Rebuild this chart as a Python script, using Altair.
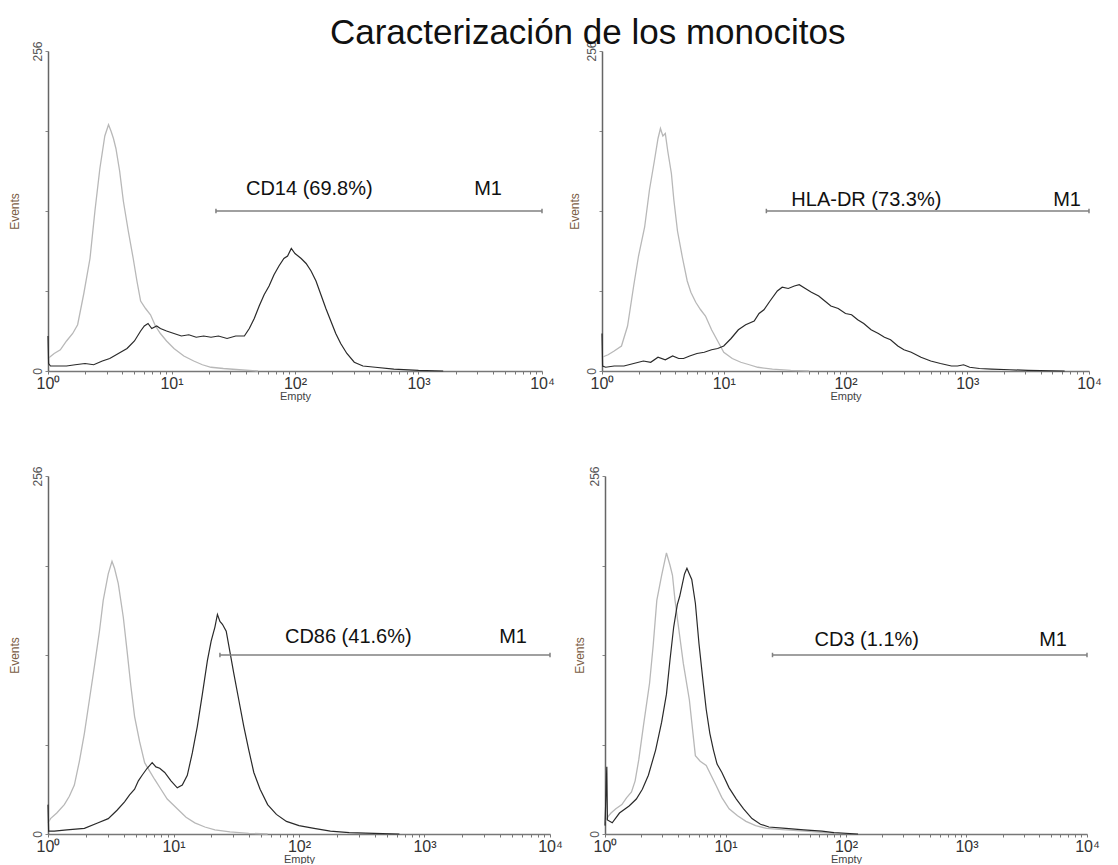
import altair as alt
import pandas as pd

TITLE = "Caracterización de los monocitos"
GATE_LABELS = ["CD14 (69.8%)", "HLA-DR (73.3%)", "CD86 (41.6%)", "CD3 (1.1%)"]
GATE_NAME = "M1"
GATE_START_LOG = [1.36, 1.35, 1.37, 1.39]   # log10 of gate start
GATE_LEVEL = [128, 128, 128, 128]           # events level of the marker bar
X_TICKS = [1, 10, 100, 1000, 10000]
Y_TICKS = [0, 64, 128, 192, 256]

# ---- histogram curves: log10(intensity) and events ----
cd14_iso_d = [0.00,0.05,0.10,0.15,0.20,0.24,0.29,0.34,0.38,0.42,0.46,0.49,0.51,0.53,0.55,0.58,0.61,0.65,0.69,0.72,0.75,0.79,0.83,0.87,0.91,0.96,1.02,1.10,1.18,1.25,1.32,1.42,1.55,1.70]
cd14_iso_c = [10,14,17,24,30,37,62,90,128,162,188,197,192,186,178,160,136,112,90,72,56,50,45,36,30,24,18,12,8,5,3,2,1,0]
cd14_mab_d = [0.00,0.005,0.02,0.08,0.15,0.22,0.30,0.37,0.44,0.50,0.57,0.64,0.70,0.75,0.78,0.81,0.84,0.88,0.91,0.96,1.02,1.08,1.14,1.20,1.26,1.32,1.38,1.45,1.52,1.59,1.63,1.67,1.71,1.75,1.79,1.83,1.87,1.91,1.94,1.97,2.00,2.05,2.09,2.13,2.17,2.21,2.25,2.29,2.33,2.37,2.42,2.48,2.55,2.65,2.80,3.00,3.20]
cd14_mab_c = [28,6,4,4,4,5,6,5,8,10,14,18,24,32,36,38,34,36,34,32,30,28,29,27,28,27,28,26,28,28,34,42,52,61,68,77,84,90,92,98,94,90,86,80,72,61,50,40,30,22,14,7,4,3,1.5,0.5,0]

hla_iso_d = [0.00,0.05,0.10,0.16,0.21,0.26,0.30,0.35,0.39,0.43,0.46,0.48,0.50,0.52,0.54,0.57,0.59,0.62,0.66,0.70,0.73,0.77,0.81,0.85,0.90,0.95,1.00,1.07,1.14,1.21,1.28,1.40,1.55,1.70]
hla_iso_c = [11,13,16,20,36,68,92,115,145,168,186,194,188,190,176,158,137,112,91,72,63,55,49,44,33,24,15,10,7,5,3,1.5,0.5,0]
hla_mab_d = [0.00,0.005,0.03,0.10,0.18,0.26,0.34,0.40,0.46,0.52,0.58,0.63,0.67,0.72,0.78,0.84,0.90,0.95,1.00,1.06,1.12,1.18,1.25,1.29,1.33,1.38,1.44,1.48,1.53,1.58,1.62,1.67,1.72,1.78,1.83,1.88,1.94,2.00,2.05,2.10,2.15,2.21,2.27,2.32,2.37,2.43,2.48,2.54,2.62,2.70,2.78,2.87,2.92,2.97,3.02,3.10,3.20,3.35,3.50,3.80]
hla_mab_c = [30,4,3,4,4,6,8,7,11,9,12,10,10,12,14,15,17,18,20,26,33,37,40,46,49,56,64,67,66,68,69,66,63,60,56,52,50,46,45,41,38,33,30,27,25,20,17,15,11,8,6,4,4,5,3,2,1.5,1,0.5,0]

cd86_iso_d = [0.00,0.02,0.07,0.13,0.17,0.21,0.25,0.29,0.33,0.37,0.41,0.44,0.48,0.51,0.53,0.56,0.60,0.63,0.66,0.69,0.73,0.77,0.81,0.85,0.90,0.95,1.03,1.10,1.17,1.25,1.33,1.45,1.60,1.75]
cd86_iso_c = [8,11,15,21,27,35,52,72,96,120,145,167,186,195,190,179,155,131,106,84,66,51,45,39,32,25,18,12,8,5,3,1.5,0.5,0]
cd86_mab_d = [0.00,0.005,0.05,0.15,0.29,0.40,0.48,0.55,0.61,0.65,0.69,0.72,0.75,0.79,0.83,0.86,0.89,0.93,0.98,1.03,1.07,1.11,1.15,1.19,1.23,1.27,1.30,1.33,1.35,1.37,1.39,1.42,1.45,1.48,1.52,1.56,1.60,1.64,1.69,1.75,1.82,1.90,2.00,2.12,2.25,2.40,2.60,2.80]
cd86_mab_c = [21,2,2,3,4,8,11,17,23,28,32,38,42,47,51,48,47,44,38,33,35,42,58,77,100,124,138,148,157,152,150,145,130,115,96,77,60,44,32,21,14,9,6,4,2,1,0.5,0]

cd3_iso_d = [0.00,0.03,0.05,0.09,0.14,0.18,0.22,0.25,0.28,0.32,0.37,0.40,0.43,0.47,0.51,0.54,0.56,0.58,0.61,0.65,0.70,0.73,0.75,0.79,0.84,0.88,0.92,0.97,1.03,1.10,1.17,1.25,1.34,1.50,1.66,1.90]
cd3_iso_c = [9,13,15,18,21,26,30,38,53,78,108,135,167,185,201,192,185,168,148,122,96,72,56,52,49,42,35,26,18,13,9,6,4,3,2,0.5]
cd3_mab_d = [0.00,0.015,0.02,0.06,0.12,0.20,0.26,0.31,0.36,0.42,0.47,0.51,0.54,0.57,0.60,0.62,0.64,0.66,0.68,0.70,0.72,0.75,0.78,0.81,0.84,0.87,0.90,0.93,0.97,1.03,1.09,1.15,1.22,1.29,1.36,1.50,1.65,1.80,1.90,2.10]
cd3_mab_c = [6,48,10,8,15,20,25,32,42,60,80,100,125,148,164,170,178,186,190,186,182,165,136,112,89,72,60,50,44,33,25,18,11,7,5,4,3,2,1,0]

CURVES = [
    (cd14_iso_d, cd14_iso_c, cd14_mab_d, cd14_mab_c),
    (hla_iso_d, hla_iso_c, hla_mab_d, hla_mab_c),
    (cd86_iso_d, cd86_iso_c, cd86_mab_d, cd86_mab_c),
    (cd3_iso_d, cd3_iso_c, cd3_mab_d, cd3_mab_c),
]

# ---- styles (layout only) ----
FONT = "Liberation Sans"
SIZES = [(494, 320), (487, 320), (502, 358), (482, 358)]
Y_TITLE_PAD = [10, 4, 10, 2]
LABEL_OFFSETS = [(30, -22), (25, -11), (65, -18), (42, -15)]   # dx, dy of gate label
M1_OFFSETS = [(-40, -22), (-8, -11), (-23, -18), (-20, -15)]

x_label_expr = ("datum.value == 1 ? '10⁰' : datum.value == 10 ? '10¹' : "
                "datum.value == 100 ? '10²' : datum.value == 1000 ? '10³' : "
                "datum.value == 10000 ? '10⁴' : ''")
minor = [m * 10 ** k for k in range(4) for m in range(1, 10)] + [10000]


def panel(i):
    iso_d, iso_c, mab_d, mab_c = CURVES[i]
    rows = [{"x": 10 ** d, "n": c, "s": "iso", "o": j} for j, (d, c) in enumerate(zip(iso_d, iso_c))]
    rows += [{"x": 10 ** d, "n": c, "s": "mab", "o": j} for j, (d, c) in enumerate(zip(mab_d, mab_c))]
    df = pd.DataFrame(rows)
    w, h = SIZES[i]
    xs = alt.Scale(type="log", domain=[1, 10000], nice=False)
    ys = alt.Scale(domain=[0, 256], nice=False, zero=True)
    xax = alt.Axis(values=minor, labelExpr=x_label_expr, title="Empty", grid=False,
                   tickSize=3, labelFontSize=16, labelColor="#333", labelFont=FONT,
                   titleFontSize=11, titleFont=FONT, titleFontWeight="normal",
                   titleColor="#444", titlePadding=-1, labelPadding=1, labelFlush=False,
                   domainColor="#777", tickColor="#777", domainWidth=1.5)
    yax = alt.Axis(values=Y_TICKS, title="Events", grid=False, tickSize=3,
                   labelExpr="datum.value == 0 || datum.value == 256 ? datum.label : ''",
                   labelAngle=270, labelAlign="center", labelBaseline="bottom",
                   labelFontSize=12, labelColor="#555", labelFont=FONT, labelPadding=1,
                   titleFontSize=12, titleFont=FONT, titleFontWeight="normal",
                   titleColor="#7a5c45", titlePadding=Y_TITLE_PAD[i],
                   domainColor="#666", tickColor="#888", domainWidth=1.5)
    base = alt.Chart(df)
    iso = base.transform_filter("datum.s == 'iso'").mark_line(
        color="#b8b8b8", strokeWidth=1.3).encode(
        x=alt.X("x:Q", scale=xs, axis=xax), y=alt.Y("n:Q", scale=ys, axis=yax), order="o:Q")
    mab = base.transform_filter("datum.s == 'mab'").mark_line(
        color="#2a2a2a", strokeWidth=1.2).encode(
        x=alt.X("x:Q", scale=xs), y=alt.Y("n:Q", scale=ys), order="o:Q")

    gdf = pd.DataFrame({"x0": [10 ** GATE_START_LOG[i]], "x1": [10000],
                        "y": [GATE_LEVEL[i]], "lab": [GATE_LABELS[i]], "m": [GATE_NAME]})
    gbase = alt.Chart(gdf)
    rule = gbase.mark_rule(color="#808080", strokeWidth=1.3).encode(
        x=alt.X("x0:Q", scale=xs), x2="x1:Q", y=alt.Y("y:Q", scale=ys))
    ends_df = pd.DataFrame({"x": [10 ** GATE_START_LOG[i], 10000], "y": [GATE_LEVEL[i]] * 2})
    ends = alt.Chart(ends_df).mark_point(shape="M0,-1L0,1", size=20, color="#808080",
                                         strokeWidth=1.5, filled=False, opacity=1).encode(
        x=alt.X("x:Q", scale=xs), y=alt.Y("y:Q", scale=ys))
    ldx, ldy = LABEL_OFFSETS[i]
    mdx, mdy = M1_OFFSETS[i]
    lab = gbase.mark_text(align="left", baseline="middle", dx=ldx, dy=ldy, fontSize=20,
                          font=FONT, color="#111").encode(
        x=alt.X("x0:Q", scale=xs), y=alt.Y("y:Q", scale=ys), text="lab:N")
    m1 = gbase.mark_text(align="right", baseline="middle", dx=mdx, dy=mdy, fontSize=20,
                         font=FONT, color="#111").encode(
        x=alt.X("x1:Q", scale=xs), y=alt.Y("y:Q", scale=ys), text="m:N")
    return alt.layer(iso, mab, rule, ends, lab, m1).properties(width=w, height=h)


top = alt.hconcat(panel(0), panel(1), spacing=13)
bottom = alt.hconcat(panel(2), panel(3), spacing=10)
chart = alt.vconcat(top, bottom, spacing=64).properties(
    title=alt.TitleParams(TITLE, fontSize=35, font=FONT, fontWeight="normal",
                          color="#111", anchor="middle", dx=33, dy=10, offset=0)
).configure(padding={"top": 7, "left": 0, "right": 0, "bottom": 0}).configure_view(stroke=None)

chart.save("out.html", embed_options={"renderer": "svg", "actions": False})
